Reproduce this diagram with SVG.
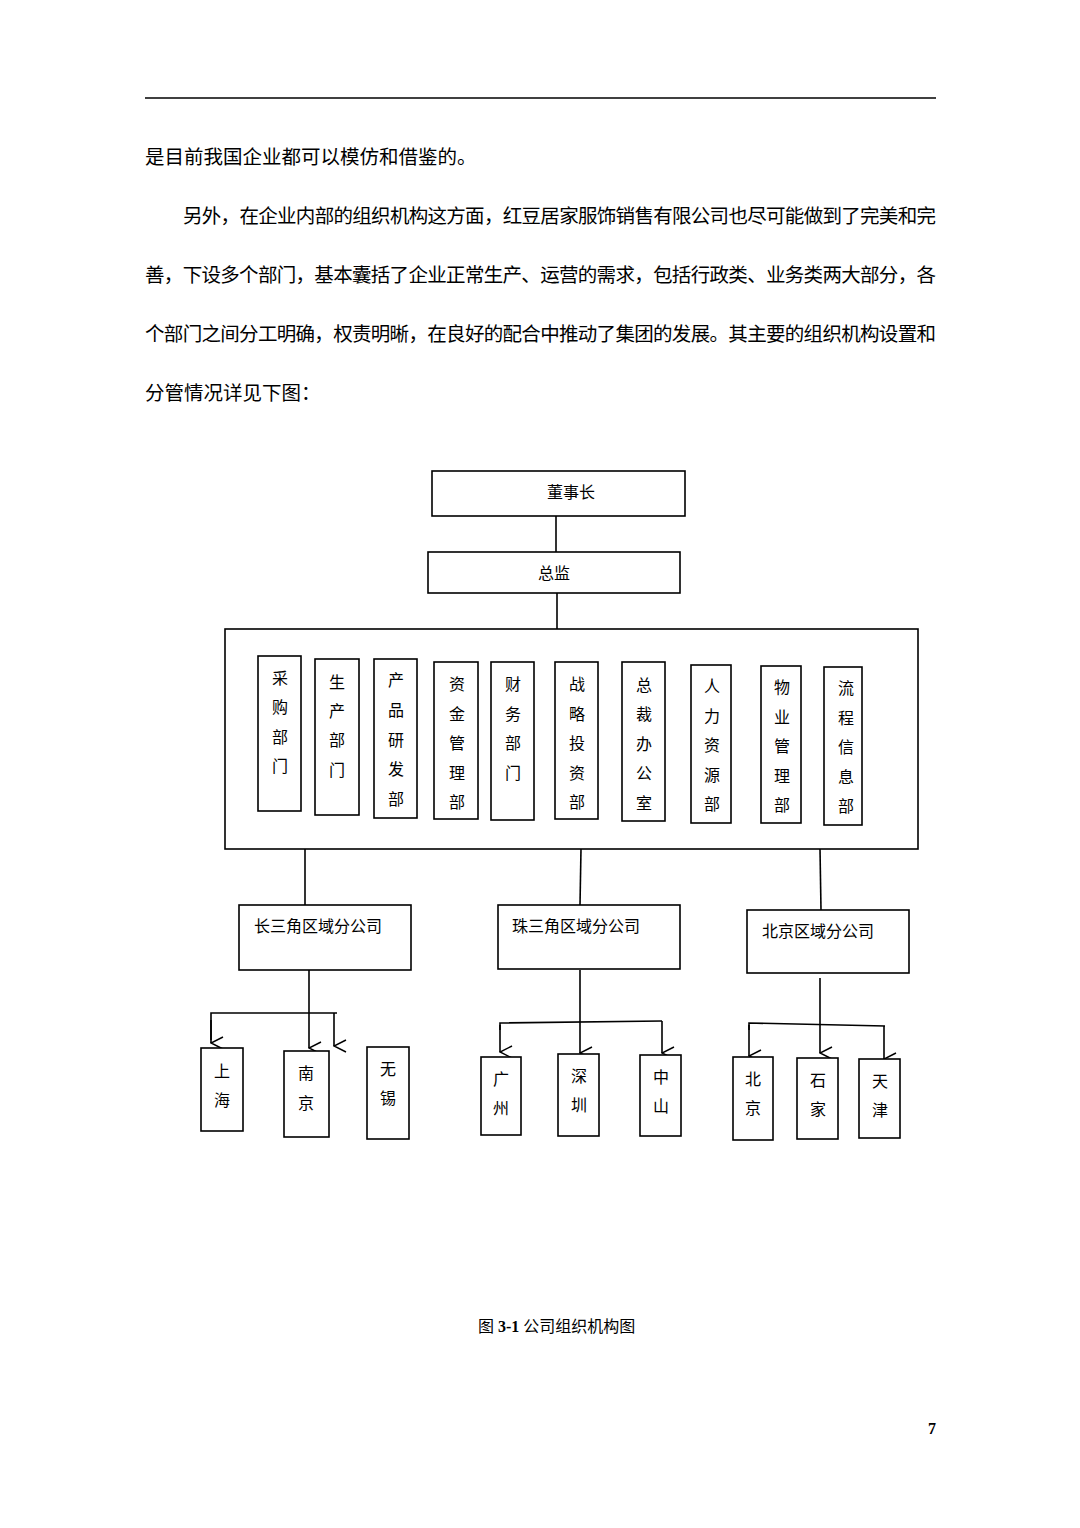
<svg xmlns="http://www.w3.org/2000/svg" width="1080" height="1528" viewBox="0 0 1080 1528">
<style>
.b{fill:#fff;stroke:#000;stroke-width:1.6}
.l{fill:none;stroke:#000;stroke-width:1.6}
.p{font-family:"Noto Sans CJK SC","Noto Sans",sans-serif;font-size:19.5px;fill:#000}
.t{font-family:"Liberation Serif","Noto Sans CJK SC",serif;font-size:16px;fill:#000}
.v{font-family:"Liberation Serif","Noto Sans CJK SC",serif;font-size:16px;fill:#000;text-anchor:middle}
</style>
<defs><marker id="a" markerWidth="14" markerHeight="14" refX="7" refY="13" orient="auto" markerUnits="userSpaceOnUse"><path d="M1,1 L7,13 L13,1" fill="none" stroke="#000" stroke-width="1.5"/></marker></defs>
<rect width="1080" height="1528" fill="#fff"/>
<line x1="145" y1="98" x2="936" y2="98" stroke="#000" stroke-width="1.5"/>
<text class="p" x="145" y="164">是目前我国企业都可以模仿和借鉴的。</text>
<text class="p" x="183" y="223" textLength="753" lengthAdjust="spacing">另外，在企业内部的组织机构这方面，红豆居家服饰销售有限公司也尽可能做到了完美和完</text>
<text class="p" x="145" y="282" textLength="791" lengthAdjust="spacing">善，下设多个部门，基本囊括了企业正常生产、运营的需求，包括行政类、业务类两大部分，各</text>
<text class="p" x="145" y="341" textLength="791" lengthAdjust="spacing">个部门之间分工明确，权责明晰，在良好的配合中推动了集团的发展。其主要的组织机构设置和</text>
<text class="p" x="145" y="400">分管情况详见下图：</text>
<g id="connectors">
<line class="l" x1="556" y1="516" x2="556" y2="552"/>
<line class="l" x1="557" y1="593" x2="557" y2="629"/>
<line class="l" x1="305" y1="849" x2="305" y2="905"/>
<line class="l" x1="581" y1="849" x2="580" y2="905"/>
<line class="l" x1="820" y1="849" x2="821" y2="910"/>
<line class="l" x1="309" y1="970" x2="309" y2="1048" marker-end="url(#a)"/>
<polyline class="l" points="211,1040 211,1013 337,1013"/>
<line class="l" x1="211" y1="1020" x2="211" y2="1043" marker-end="url(#a)"/>
<line class="l" x1="334" y1="1013" x2="334" y2="1046" marker-end="url(#a)"/>
<line class="l" x1="580" y1="970" x2="580" y2="1053" marker-end="url(#a)"/>
<polyline class="l" points="500,1030 500,1023 662,1021"/>
<line class="l" x1="500" y1="1025" x2="500" y2="1052" marker-end="url(#a)"/>
<line class="l" x1="662" y1="1021" x2="662" y2="1053" marker-end="url(#a)"/>
<line class="l" x1="820" y1="978" x2="820" y2="1053" marker-end="url(#a)"/>
<polyline class="l" points="749,1030 749,1023 885,1026"/>
<line class="l" x1="749" y1="1025" x2="749" y2="1056" marker-end="url(#a)"/>
<line class="l" x1="884" y1="1026" x2="884" y2="1059" marker-end="url(#a)"/>
</g>
<g id="n-dongshizhang"><rect class="b" x="432" y="471" width="253" height="45"/><text class="v" x="571" y="498">董事长</text></g>
<g id="n-zongjian"><rect class="b" x="428" y="552" width="252" height="41"/><text class="v" x="554" y="579">总监</text></g>
<g id="n-depts"><rect class="b" x="225" y="629" width="693" height="220"/></g>
<g id="d1"><rect class="b" x="258" y="656" width="43" height="155"/><text class="v" x="280" y="684">采</text><text class="v" x="280" y="713">购</text><text class="v" x="280" y="743">部</text><text class="v" x="280" y="772">门</text></g>
<g id="d2"><rect class="b" x="315" y="659" width="44" height="156"/><text class="v" x="337" y="688">生</text><text class="v" x="337" y="717">产</text><text class="v" x="337" y="746">部</text><text class="v" x="337" y="776">门</text></g>
<g id="d3"><rect class="b" x="374" y="659" width="43" height="159"/><text class="v" x="396" y="686">产</text><text class="v" x="396" y="716">品</text><text class="v" x="396" y="746">研</text><text class="v" x="396" y="775">发</text><text class="v" x="396" y="805">部</text></g>
<g id="d4"><rect class="b" x="434" y="662" width="44" height="157"/><text class="v" x="457" y="690">资</text><text class="v" x="457" y="720">金</text><text class="v" x="457" y="749">管</text><text class="v" x="457" y="779">理</text><text class="v" x="457" y="808">部</text></g>
<g id="d5"><rect class="b" x="491" y="662" width="43" height="158"/><text class="v" x="513" y="690">财</text><text class="v" x="513" y="720">务</text><text class="v" x="513" y="749">部</text><text class="v" x="513" y="779">门</text></g>
<g id="d6"><rect class="b" x="555" y="662" width="43" height="157"/><text class="v" x="577" y="690">战</text><text class="v" x="577" y="720">略</text><text class="v" x="577" y="749">投</text><text class="v" x="577" y="779">资</text><text class="v" x="577" y="808">部</text></g>
<g id="d7"><rect class="b" x="622" y="662" width="43" height="159"/><text class="v" x="644" y="691">总</text><text class="v" x="644" y="720">裁</text><text class="v" x="644" y="750">办</text><text class="v" x="644" y="779">公</text><text class="v" x="644" y="809">室</text></g>
<g id="d8"><rect class="b" x="691" y="665" width="40" height="158"/><text class="v" x="712" y="692">人</text><text class="v" x="712" y="722">力</text><text class="v" x="712" y="751">资</text><text class="v" x="712" y="781">源</text><text class="v" x="712" y="810">部</text></g>
<g id="d9"><rect class="b" x="761" y="666" width="40" height="157"/><text class="v" x="782" y="693">物</text><text class="v" x="782" y="723">业</text><text class="v" x="782" y="752">管</text><text class="v" x="782" y="782">理</text><text class="v" x="782" y="811">部</text></g>
<g id="d10"><rect class="b" x="824" y="667" width="38" height="158"/><text class="v" x="846" y="694">流</text><text class="v" x="846" y="724">程</text><text class="v" x="846" y="753">信</text><text class="v" x="846" y="783">息</text><text class="v" x="846" y="812">部</text></g>
<g id="r1"><rect class="b" x="239" y="905" width="172" height="65"/><text class="t" x="254" y="932">长三角区域分公司</text></g>
<g id="r2"><rect class="b" x="498" y="905" width="182" height="64"/><text class="t" x="512" y="932">珠三角区域分公司</text></g>
<g id="r3"><rect class="b" x="747" y="910" width="162" height="63"/><text class="t" x="762" y="937">北京区域分公司</text></g>
<g id="c1"><rect class="b" x="201" y="1048" width="42" height="83"/><text class="v" x="222" y="1077">上</text><text class="v" x="222" y="1106">海</text></g>
<g id="c2"><rect class="b" x="284" y="1051" width="45" height="86"/><text class="v" x="306" y="1079">南</text><text class="v" x="306" y="1109">京</text></g>
<g id="c3"><rect class="b" x="367" y="1047" width="42" height="92"/><text class="v" x="388" y="1075">无</text><text class="v" x="388" y="1104">锡</text></g>
<g id="c4"><rect class="b" x="481" y="1057" width="40" height="78"/><text class="v" x="501" y="1085">广</text><text class="v" x="501" y="1114">州</text></g>
<g id="c5"><rect class="b" x="558" y="1054" width="41" height="82"/><text class="v" x="579" y="1082">深</text><text class="v" x="579" y="1111">圳</text></g>
<g id="c6"><rect class="b" x="640" y="1055" width="41" height="81"/><text class="v" x="661" y="1083">中</text><text class="v" x="661" y="1112">山</text></g>
<g id="c7"><rect class="b" x="733" y="1057" width="40" height="83"/><text class="v" x="753" y="1085">北</text><text class="v" x="753" y="1114">京</text></g>
<g id="c8"><rect class="b" x="797" y="1058" width="41" height="81"/><text class="v" x="818" y="1086">石</text><text class="v" x="818" y="1115">家</text></g>
<g id="c9"><rect class="b" x="859" y="1059" width="41" height="79"/><text class="v" x="880" y="1087">天</text><text class="v" x="880" y="1116">津</text></g>
<text class="t" x="478" y="1332">图 <tspan font-weight="bold">3-1</tspan> 公司组织机构图</text>
<text class="t" x="928" y="1434" font-weight="bold">7</text>
</svg>
